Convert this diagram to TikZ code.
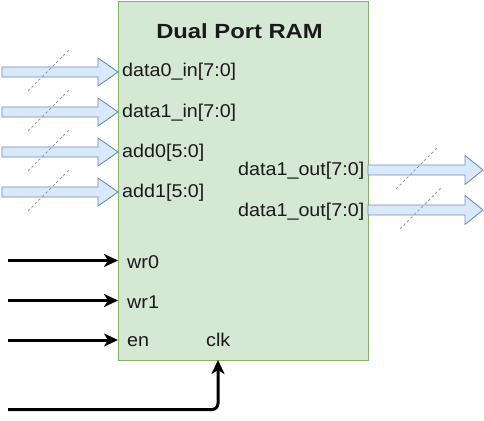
\documentclass[tikz,border=0pt]{standalone}
\usepackage{fontspec}
\setmainfont{Liberation Sans}
\newfontfamily\lblfont[FakeStretch=1.066]{Liberation Sans}
\newfontfamily\ttlfont[FakeStretch=1.16]{Liberation Sans Bold}
\usetikzlibrary{arrows.meta}
\definecolor{ramfill}{HTML}{D5E8D4}
\definecolor{ramline}{HTML}{82B366}
\definecolor{busfill}{HTML}{DAE8FC}
\definecolor{busline}{HTML}{6C8EBF}
\definecolor{txt}{HTML}{1A1A1A}
\tikzset{
  rambox/.style={draw=ramline, fill=ramfill, line width=0.9pt, minimum width=250pt, minimum height=359pt, inner sep=0pt},
  lbl/.style={anchor=base west, inner sep=0pt, text=txt, font=\lblfont\fontsize{18.5}{20}\selectfont},
  ttl/.style={anchor=base, inner sep=0pt, text=txt, font=\ttlfont\fontsize{20.5}{22}\selectfont},
  bus/.style={draw=busline, fill=busfill, line width=0.9pt, line join=miter},
  slash/.style={draw=gray!80, line width=0.8pt, dash pattern=on 2.5pt off 2.5pt},
  wire/.style={draw=black, line width=3pt, -{Stealth[length=14pt,width=13pt,inset=4pt]}}
}
\begin{document}
\begin{tikzpicture}[x=1pt,y=-1pt]
\useasboundingbox (0,0) rectangle (484,420);
\node[rambox] (ram) at (243,180.5) {};
\node[ttl] (title) at (239.5,38.3) {Dual Port RAM};
% input buses
\foreach \c/\nm/\txt in {72/d0/{data0\_in[7:0]},112/d1/{data1\_in[7:0]},152/a0/{add0[5:0]},192/a1/{add1[5:0]}}{
  \coordinate (\nm s) at (2,\c);
  \coordinate (\nm e) at (118,\c);
  \path[bus] (\nm s) ++(0,-5) -- ++(96,0) -- ++(0,-9) -- (\nm e) -- ++(-20,14) -- ++(0,-9) -- ++(-96,0) -- cycle;
  \path[slash] (28,\c+19) -- (69,\c-22);
  \node[lbl] (\nm l) at (122,\c+5) {\txt};
}
% output buses
\foreach \c/\nm/\x in {170/o0/396,210/o1/400}{
  \coordinate (\nm s) at (368,\c);
  \coordinate (\nm e) at (483,\c);
  \path[bus] (\nm s) ++(0,-5) -- ++(97,0) -- ++(0,-9.5) -- (\nm e) -- ++(-18,14.5) -- ++(0,-9.5) -- ++(-97,0) -- cycle;
  \path[slash] (\x,\c+19) -- (\x+41,\c-22);
}
\node[lbl] (o0l) at (238,175) {data1\_out[7:0]};
\node[lbl] (o1l) at (238,216) {data1\_out[7:0]};
% control wires
\coordinate (wr0s) at (8,260.5);
\coordinate (wr0e) at (118,260.5);
\coordinate (wr1s) at (8,300.5);
\coordinate (wr1e) at (118,300.5);
\coordinate (ens) at (8,340);
\coordinate (ene) at (118,340);
\coordinate (clks) at (8,409.5);
\coordinate (clke) at (218,360);
\draw[wire] (wr0s) -- (wr0e);
\draw[wire] (wr1s) -- (wr1e);
\draw[wire] (ens) -- (ene);
\draw[wire, rounded corners=6pt] (clks) -| (clke);
\node[lbl] (wr0l) at (127,268) {wr0};
\node[lbl] (wr1l) at (127,308) {wr1};
\node[lbl] (enl) at (127,346.7) {en};
\node[lbl] (clkl) at (206,346.7) {clk};
\end{tikzpicture}
\end{document}
